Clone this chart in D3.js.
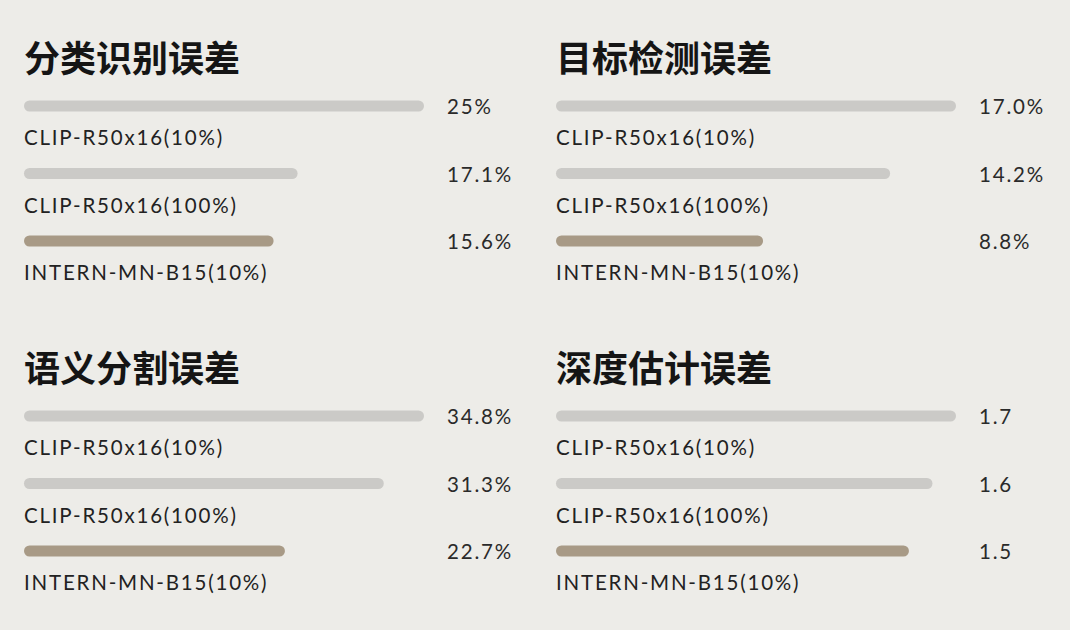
<!DOCTYPE html>
<html>
<head>
<meta charset="utf-8">
<script src="https://cdn.jsdelivr.net/npm/d3@7"></script>
<style>
	body { margin: 0; background: #edece8; }
	.title { font-family: "Noto Sans CJK SC", sans-serif; font-weight: 700; font-size: 36px; fill: #151515; }
	.model { font-family: Lato, "Open Sans", sans-serif; font-size: 20.5px; letter-spacing: 1.8px; fill: #222; }
	.value { font-family: Lato, "Open Sans", sans-serif; font-size: 20.5px; letter-spacing: 1.8px; fill: #2a2a2a; }
</style>
</head>
<body>
<div id="chart"></div>
<script>
var models = ["CLIP-R50x16(10%)", "CLIP-R50x16(100%)", "INTERN-MN-B15(10%)"];
var titles = ["分类识别误差", "目标检测误差", "语义分割误差", "深度估计误差"];

var classValues = [25, 17.1, 15.6];
var detectValues = [17.0, 14.2, 8.8];
var segValues = [34.8, 31.3, 22.7];
var depthValues = [1.7, 1.6, 1.5];

var classLabels = ["25%", "17.1%", "15.6%"];
var detectLabels = ["17.0%", "14.2%", "8.8%"];
var segLabels = ["34.8%", "31.3%", "22.7%"];
var depthLabels = ["1.7", "1.6", "1.5"];

(function(){
	var width = 1070;
	var height = 630;
	var barW = 400;
	var barH = 11;

	var panels = [
		{title: titles[0], values: classValues, labels: classLabels, x: 24, y: 0},
		{title: titles[1], values: detectValues, labels: detectLabels, x: 556, y: 0},
		{title: titles[2], values: segValues, labels: segLabels, x: 24, y: 310},
		{title: titles[3], values: depthValues, labels: depthLabels, x: 556, y: 310}
	];

	var svg = d3.select('#chart').append('svg')
		.attr('width', width)
		.attr('height', height);

	svg.append('rect')
		.attr('width', width)
		.attr('height', height)
		.attr('fill', '#edece8');

	// row positions (bar centre lines)
	var row = d3.scalePoint()
		.domain(models)
		.range([106, 241]);

	var color = d3.scaleOrdinal()
		.domain(models)
		.range(["#cbcac7", "#cbcac7", "#a89a86"]);

	panels.forEach(function(p){
		var g = svg.append('g')
			.attr('transform', 'translate(' + p.x + ',' + p.y + ')');

		var x = d3.scaleLinear()
			.domain([0, d3.max(p.values)])
			.range([0, barW]);

		g.append('text')
			.attr('class', 'title')
			.attr('x', 0)
			.attr('y', 72)
			.text(p.title);

		var rows = g.selectAll('.row')
			.data(models)
			.enter()
			.append('g')
			.attr('class', 'row')
			.attr('transform', function(d){ return 'translate(0,' + row(d) + ')'; });

		rows.append('rect')
			.attr('x', 0)
			.attr('y', -barH/2)
			.attr('height', barH)
			.attr('width', function(d, i){ return x(p.values[i]); })
			.attr('rx', barH/2)
			.attr('fill', function(d){ return color(d); });

		rows.append('text')
			.attr('class', 'value')
			.attr('x', barW + 23)
			.attr('y', 8)
			.text(function(d, i){ return p.labels[i]; });

		rows.append('text')
			.attr('class', 'model')
			.attr('x', 0)
			.attr('y', 39)
			.text(function(d){ return d; });
	});
})();
</script>
</body>
</html>
